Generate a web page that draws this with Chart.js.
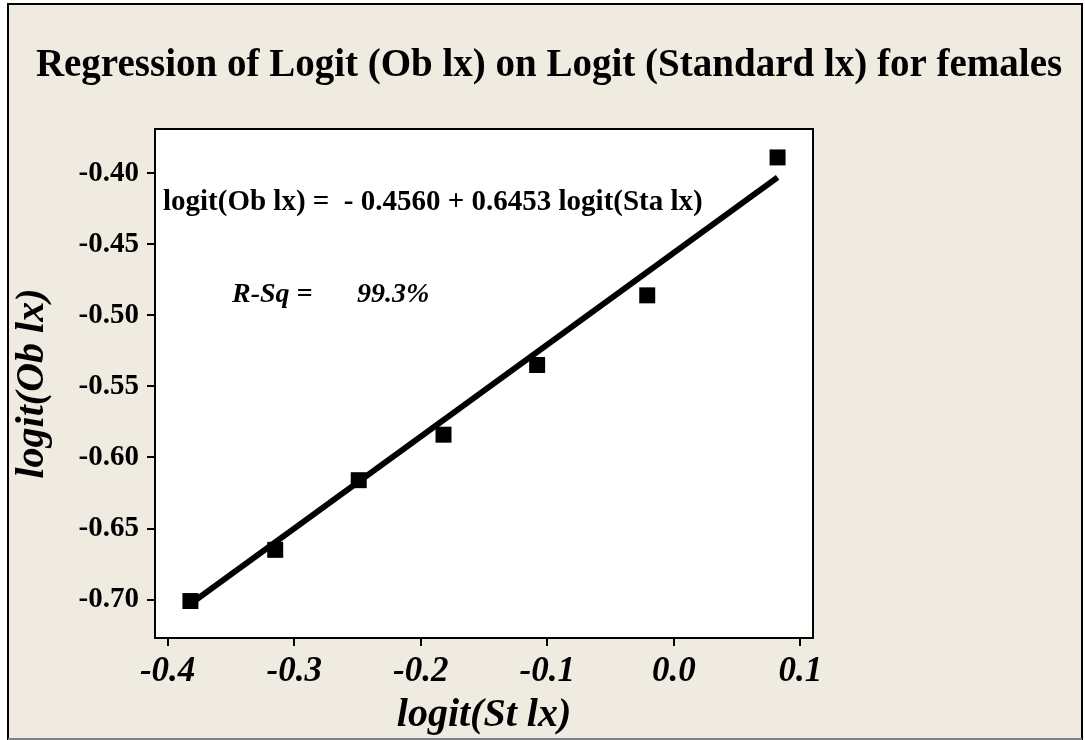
<!DOCTYPE html>
<html>
<head>
<meta charset="utf-8">
<script src="https://cdn.jsdelivr.net/npm/chart.js@4"></script>
<style>
  body { margin: 0; background: #fff; }
</style>
</head>
<body>
<canvas id="chart" width="1085" height="740"></canvas>
<script>
const stLx = [-0.382, -0.315, -0.249, -0.182, -0.108, -0.021, 0.082];
const obLx = [-0.701, -0.665, -0.616, -0.584, -0.535, -0.486, -0.389];

// fitted line end points
const fitX = [-0.382, 0.082];
const fitY = [-0.703, -0.403];

const xTicks = [-0.4, -0.3, -0.2, -0.1, 0.0, 0.1];
const xTickLabels = ["-0.4", "-0.3", "-0.2", "-0.1", "0.0", "0.1"];
const yTicks = [-0.70, -0.65, -0.60, -0.55, -0.50, -0.45, -0.40];
const yTickLabels = ["-0.70", "-0.65", "-0.60", "-0.55", "-0.50", "-0.45", "-0.40"];

const titleText = "Regression of Logit (Ob lx) on Logit (Standard lx) for females";
const equationText = "logit(Ob lx) =  - 0.4560 + 0.6453 logit(Sta lx)";
const rsqLabel = "R-Sq =";
const rsqValue = "99.3%";

const SERIF = "'Liberation Serif', 'Times New Roman', serif";
const BEIGE = "#efebe1";

const backdrop = {
    id: "backdrop",
    beforeDraw(chart) {
        const ctx = chart.ctx;
        const a = chart.chartArea;
        ctx.save();
        ctx.fillStyle = "#fff";
        ctx.fillRect(0, 0, chart.width, chart.height);
        ctx.fillStyle = BEIGE;
        ctx.fillRect(8, 4, 1074, 735);
        ctx.strokeStyle = "#000";
        ctx.lineWidth = 2;
        ctx.beginPath();
        ctx.moveTo(8, 740);
        ctx.lineTo(8, 4);
        ctx.lineTo(1082, 4);
        ctx.lineTo(1082, 740);
        ctx.stroke();
        ctx.strokeStyle = "#808080";
        ctx.beginPath();
        ctx.moveTo(8, 739);
        ctx.lineTo(1082, 739);
        ctx.stroke();
        ctx.fillStyle = "#fff";
        ctx.fillRect(a.left, a.top, a.right - a.left, a.bottom - a.top);
        ctx.restore();
    },
    afterDraw(chart) {
        const ctx = chart.ctx;
        const a = chart.chartArea;
        ctx.save();
        ctx.strokeStyle = "#000";
        ctx.lineWidth = 2;
        ctx.strokeRect(a.left, a.top, a.right - a.left, a.bottom - a.top);

        ctx.fillStyle = "#000";
        ctx.textBaseline = "alphabetic";
        ctx.font = "bold 39px " + SERIF;
        ctx.textAlign = "center";
        ctx.fillText(titleText, 549, 76);

        ctx.textAlign = "left";
        ctx.font = "bold 29px " + SERIF;
        ctx.fillText(equationText, a.left + 8, 210);

        ctx.font = "italic bold 28px " + SERIF;
        ctx.fillText(rsqLabel, 232, 302);
        ctx.fillText(rsqValue, 357, 302);
        ctx.restore();
    }
};

const ctx = document.getElementById("chart").getContext("2d");

new Chart(ctx, {
    type: "scatter",
    data: {
        datasets: [
            {
                label: "Fit",
                type: "line",
                data: fitX.map((x, i) => ({ x: x, y: fitY[i] })),
                borderColor: "#000",
                borderWidth: 6,
                pointRadius: 0,
                fill: false,
                order: 2
            },
            {
                label: "Observed",
                data: stLx.map((x, i) => ({ x: x, y: obLx[i] })),
                pointStyle: "rect",
                pointRadius: 11.3,
                pointHoverRadius: 11.3,
                backgroundColor: "#000",
                borderColor: "#000",
                borderWidth: 0,
                order: 1
            }
        ]
    },
    options: {
        responsive: false,
        devicePixelRatio: 1,
        animation: false,
        layout: {
            padding: { left: 0, top: 129, right: 272, bottom: 0 }
        },
        plugins: {
            legend: { display: false },
            tooltip: { enabled: false }
        },
        scales: {
            x: {
                type: "linear",
                min: -0.41,
                max: 0.11,
                afterFit(scale) { scale.height = 102; },
                afterBuildTicks(scale) {
                    scale.ticks = xTicks.map(v => ({ value: v }));
                },
                border: { display: false },
                grid: {
                    drawOnChartArea: false,
                    drawTicks: true,
                    tickLength: 8,
                    color: "#000",
                    lineWidth: 2
                },
                ticks: {
                    color: "#000",
                    padding: 5,
                    maxRotation: 0,
                    font: { family: SERIF, size: 35, weight: "bold", style: "italic" },
                    callback: (v, i) => xTickLabels[i]
                },
                title: {
                    display: true,
                    text: "logit(St lx)",
                    color: "#000",
                    padding: { top: 0, bottom: 0 },
                    font: { family: SERIF, size: 40, weight: "bold", style: "italic" }
                }
            },
            y: {
                type: "linear",
                min: -0.727,
                max: -0.369,
                afterFit(scale) { scale.width = 155; },
                afterBuildTicks(scale) {
                    scale.ticks = yTicks.map(v => ({ value: v }));
                },
                border: { display: false },
                grid: {
                    drawOnChartArea: false,
                    drawTicks: true,
                    tickLength: 8,
                    color: "#000",
                    lineWidth: 2
                },
                ticks: {
                    color: "#000",
                    padding: 8,
                    font: { family: SERIF, size: 29, weight: "bold" },
                    callback: (v, i) => yTickLabels[i]
                },
                title: {
                    display: true,
                    text: "logit(Ob lx)",
                    color: "#000",
                    padding: { top: 9, bottom: 0 },
                    font: { family: SERIF, size: 40, weight: "bold", style: "italic" }
                }
            }
        }
    },
    plugins: [backdrop]
});
</script>
</body>
</html>
